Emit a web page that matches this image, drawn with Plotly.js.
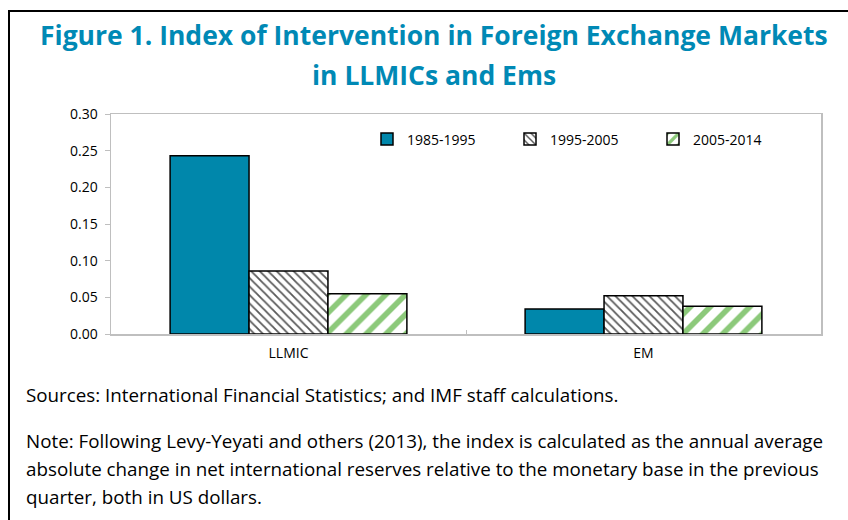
<!DOCTYPE html>
<html>
<head>
<meta charset="utf-8">
<script src="https://cdn.plot.ly/plotly-3.0.1.min.js"></script>
<style>
  html, body { margin: 0; padding: 0; background: #fff; }
  #wrap { position: relative; width: 848px; height: 520px; overflow: hidden; }
  #frame { position: absolute; left: 8px; top: 10px; width: 860px; height: 530px;
           border-left: 2px solid #000; border-top: 2px solid #000; pointer-events: none; z-index: 5; }
  #chart { position: absolute; left: 0; top: 0; width: 848px; height: 520px; }
</style>
</head>
<body>
<div id="wrap">
  <div id="chart"></div>
  <div id="frame"></div>
</div>
<script>
const categories = ["LLMIC", "EM"];
const seriesNames = ["1985-1995", "1995-2005", "2005-2014"];
const v1985_1995 = [0.243, 0.034];
const v1995_2005 = [0.086, 0.052];
const v2005_2014 = [0.055, 0.038];
const yTickVals = [0, 0.05, 0.10, 0.15, 0.20, 0.25, 0.30];
const yTickText = ["0.00", "0.05", "0.10", "0.15", "0.20", "0.25", "0.30"];
const titleLines = ["Figure 1. Index of Intervention in Foreign Exchange Markets", "in LLMICs and Ems"];
const noteLines = [
  "Sources: International Financial Statistics; and IMF staff calculations.",
  "Note: Following Levy-Yeyati and others (2013), the index is calculated as the annual average",
  "absolute change in net international reserves relative to the monetary base in the previous",
  "quarter, both in US dollars."
];

const fontFam = "'Open Sans', 'Noto Sans', sans-serif";

const traces = [
  {
    type: "bar", name: seriesNames[0], x: categories, y: v1985_1995,
    marker: { color: "#0087AB", line: { color: "#000", width: 1.5 } }
  },
  {
    type: "bar", name: seriesNames[1], x: categories, y: v1995_2005,
    marker: { color: "#ffffff", line: { color: "#000", width: 1.5 },
      pattern: { shape: "\\", fgcolor: "#5a5a5a", bgcolor: "#ffffff", size: 6, solidity: 0.3 } }
  },
  {
    type: "bar", name: seriesNames[2], x: categories, y: v2005_2014,
    marker: { color: "#ffffff", line: { color: "#000", width: 1.5 },
      pattern: { shape: "/", fgcolor: "#8CC97A", bgcolor: "#ffffff", size: 14, solidity: 0.4 } }
  }
];

// paper coords from pixel coords: plot area x 111..821, y 114..334
const py = p => (334 - p) / 220;
const px = p => (p - 111) / 710;

const annotations = [
  { x: px(434), y: py(35), text: "<b>" + titleLines[0] + "</b>", xanchor: "center", size: 26.5, color: "#0089B5" },
  { x: px(434), y: py(75), text: "<b>" + titleLines[1] + "</b>", xanchor: "center", size: 26.5, color: "#0089B5" },
  { x: px(24), y: py(395), text: noteLines[0], xanchor: "left", size: 18.8, color: "#000" },
  { x: px(24), y: py(441), text: noteLines[1], xanchor: "left", size: 18.8, color: "#000" },
  { x: px(24), y: py(469), text: noteLines[2], xanchor: "left", size: 18.8, color: "#000" },
  { x: px(24), y: py(497), text: noteLines[3], xanchor: "left", size: 18.8, color: "#000" }
].map(a => ({
  xref: "paper", yref: "paper", x: a.x, y: a.y, xanchor: a.xanchor, yanchor: "middle",
  showarrow: false, align: "left", text: a.text,
  font: { family: fontFam, size: a.size, color: a.color }
}));

const layout = {
  width: 848, height: 520,
  margin: { l: 111, r: 27, t: 114, b: 186, pad: 0 },
  paper_bgcolor: "#fff", plot_bgcolor: "#fff",
  font: { family: fontFam, size: 12, color: "#262626" },
  barmode: "group", bargap: 0.333, bargroupgap: 0,
  showlegend: true,
  legend: {
    orientation: "h", x: px(367), xanchor: "left", y: 0.957, yanchor: "top",
    font: { family: fontFam, size: 14, color: "#000" },
    entrywidth: 98, entrywidthmode: "pixels", itemwidth: 30,
    bgcolor: "rgba(0,0,0,0)", traceorder: "normal"
  },
  xaxis: {
    type: "category", showline: true, linecolor: "#bfbfbf", linewidth: 1.5, mirror: true,
    ticks: "inside", tickson: "boundaries", ticklen: 4, tickcolor: "#bfbfbf",
    showgrid: false, zeroline: false, ticklabelstandoff: 6,
    tickfont: { family: fontFam, size: 14, color: "#000" }
  },
  yaxis: {
    range: [0, 0.30], tickvals: yTickVals, ticktext: yTickText,
    showline: true, linecolor: "#bfbfbf", linewidth: 1.5, mirror: true,
    ticks: "outside", ticklen: 5, tickcolor: "#bfbfbf",
    showgrid: false, zeroline: false, ticklabelstandoff: 4,
    tickfont: { family: fontFam, size: 14, color: "#000" }
  },
  annotations: annotations
};

Plotly.newPlot("chart", traces, layout, { displayModeBar: false, staticPlot: true });
</script>
</body>
</html>
